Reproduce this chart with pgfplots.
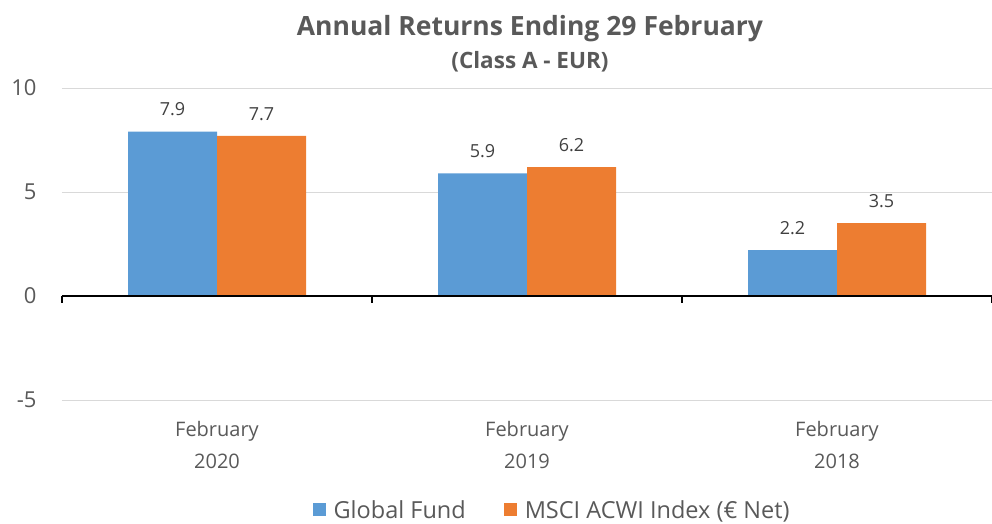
\documentclass[border=0pt]{standalone}
\usepackage{pgfplots}
\pgfplotsset{compat=1.18}
\usepackage{fontspec}
\setmainfont{Open Sans}
\protected\def\eur{\char"20AC\relax}
\definecolor{cblue}{HTML}{5B9BD5}
\definecolor{corange}{HTML}{ED7D31}
\definecolor{tgray}{HTML}{595959}
\definecolor{lgray}{HTML}{404040}
\definecolor{ggray}{HTML}{D9D9D9}
\begin{document}
\begin{tikzpicture}[x=1pt,y=1pt]
\useasboundingbox (0,0) rectangle (992,523);
\node[font=\bfseries\fontsize{26.5}{30}\selectfont, text=tgray] at (530,494) {Annual Returns Ending 29 February};
\node[font=\bfseries\fontsize{22.5}{26}\selectfont, text=tgray] at (530,461) {(Class A - EUR)};
\begin{axis}[
  at={(62pt,123pt)}, anchor=south west,
  scale only axis, width=930pt, height=312pt,
  xmin=-0.5, xmax=2.5, ymin=-5, ymax=10,
  axis line style={draw=none},
  xtick={0,1,2},
  xticklabels={February\\2020,February\\2019,February\\2018},
  xticklabel style={align=center, font=\fontsize{20}{32}\selectfont, text=tgray, yshift=-18pt},
  ytick={-5,0,5,10},
  yticklabel style={font=\fontsize{22}{26}\selectfont, text=tgray, xshift=-22pt},
  /pgf/number format/assume math mode=true,
  major tick length=0pt,
  ymajorgrids, grid style={ggray, line width=1pt},
  ybar=0pt, bar width=89pt,
  nodes near coords={\pgfmathprintnumber[fixed,fixed zerofill,precision=1]{\pgfplotspointmeta}},
  nodes near coords style={font=\fontsize{18}{22}\selectfont, text=lgray, yshift=12pt},
  legend style={at={(0.527,-0.352)}, anchor=center, draw=none, fill=none,
    legend columns=2, font=\fontsize{23.5}{27}\selectfont, text=tgray,
    /tikz/every even column/.append style={column sep=36pt},
    /tikz/every odd column/.append style={column sep=6pt}},
  legend image code/.code={\fill[#1] (0pt,-6.5pt) rectangle (13pt,6.5pt);},
  clip=false,
]
\addplot[fill=cblue, draw=none] coordinates {(0,7.9) (1,5.9) (2,2.2)};
\addplot[fill=corange, draw=none] coordinates {(0,7.7) (1,6.2) (2,3.5)};
\legend{Global Fund, MSCI ACWI Index (\eur{} Net)}
\draw[black, line width=1.3pt] (axis cs:-0.5,0) -- (axis cs:2.5,0);
\draw[black, line width=1.3pt] (axis cs:-0.5,0) -- (axis cs:-0.5,-0.34);
\draw[black, line width=1.3pt] (axis cs:0.5,0) -- (axis cs:0.5,-0.34);
\draw[black, line width=1.3pt] (axis cs:1.5,0) -- (axis cs:1.5,-0.34);
\draw[black, line width=1.3pt] (axis cs:2.5,0) -- (axis cs:2.5,-0.34);
\end{axis}
\end{tikzpicture}
\end{document}
